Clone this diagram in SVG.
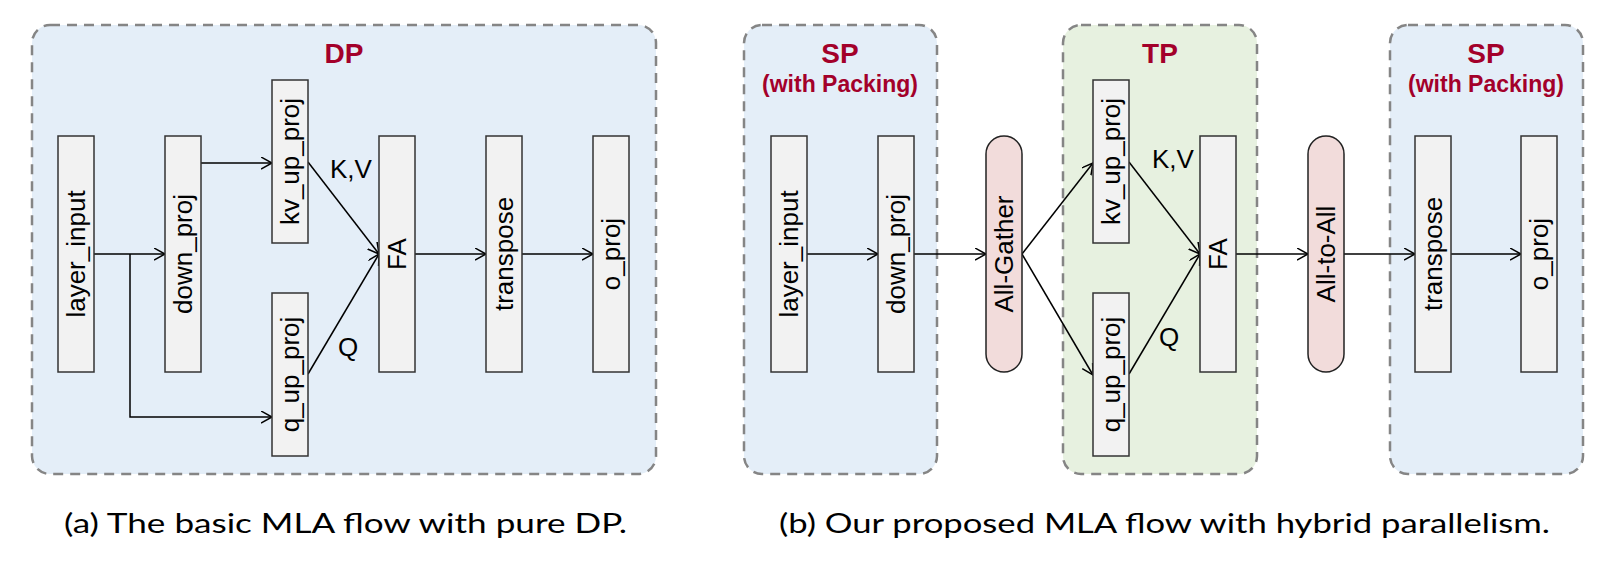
<svg xmlns="http://www.w3.org/2000/svg" width="1617" height="567" viewBox="0 0 1617 567">
<style>
.panel{stroke:#858585;stroke-width:2.5;stroke-dasharray:10 7;}
.blue{fill:#E4EEF8;}
.green{fill:#E7F1E0;}
.box{fill:#F2F2F2;stroke:#333333;stroke-width:1.5;}
.pill{fill:#F2DCDB;stroke:#222222;stroke-width:1.5;}
.lbl{font-family:"Liberation Sans",Arial,sans-serif;font-size:26px;fill:#000;text-anchor:middle;dominant-baseline:central;}
.el{font-family:"Liberation Sans",Arial,sans-serif;font-size:26px;fill:#000;}
.title{font-family:"Liberation Sans",Arial,sans-serif;font-weight:bold;font-size:28px;fill:#A3002A;text-anchor:middle;}
.sub{font-family:"Liberation Sans",Arial,sans-serif;font-weight:bold;font-size:23px;fill:#A3002A;text-anchor:middle;}
.cap{font-family:Lato,"Open Sans",sans-serif;font-size:27px;fill:#000;}
.conn line,.conn polyline{stroke:#000;stroke-width:1.5;fill:none;}
</style>
<defs>
<marker id="arr" markerUnits="userSpaceOnUse" markerWidth="14" markerHeight="14" refX="11" refY="6" orient="auto">
<path d="M0,0 L11,6 L0,12" fill="none" stroke="#000" stroke-width="1.5"/>
</marker>
</defs>

<g id="panel-dp">
<rect class="panel blue" x="32" y="25" width="624" height="449" rx="18"/>
<text class="title" x="344" y="63">DP</text>
</g>
<g id="panel-sp1">
<rect class="panel blue" x="744" y="25" width="193" height="449" rx="18"/>
<text class="title" x="840" y="63">SP</text>
<text class="sub" x="840" y="92">(with Packing)</text>
</g>
<g id="panel-tp">
<rect class="panel green" x="1063" y="25" width="194" height="449" rx="18"/>
<text class="title" x="1160" y="63">TP</text>
</g>
<g id="panel-sp2">
<rect class="panel blue" x="1390" y="25" width="193" height="449" rx="18"/>
<text class="title" x="1486" y="63">SP</text>
<text class="sub" x="1486" y="92">(with Packing)</text>
</g>

<g class="conn" id="connectors">
<line x1="94" y1="254" x2="165" y2="254" marker-end="url(#arr)"/>
<polyline points="130,254 130,417 272,417" marker-end="url(#arr)"/>
<line x1="201" y1="163" x2="272" y2="163" marker-end="url(#arr)"/>
<line x1="308" y1="162" x2="379" y2="254" marker-end="url(#arr)"/>
<line x1="308" y1="374" x2="379" y2="254" marker-end="url(#arr)"/>
<line x1="415" y1="254" x2="486" y2="254" marker-end="url(#arr)"/>
<line x1="522" y1="254" x2="593" y2="254" marker-end="url(#arr)"/>

<line x1="807" y1="254" x2="878" y2="254" marker-end="url(#arr)"/>
<line x1="914" y1="254" x2="986" y2="254" marker-end="url(#arr)"/>
<line x1="1022" y1="254" x2="1093" y2="163" marker-end="url(#arr)"/>
<line x1="1022" y1="254" x2="1093" y2="375" marker-end="url(#arr)"/>
<line x1="1129" y1="162" x2="1200" y2="254" marker-end="url(#arr)"/>
<line x1="1129" y1="374" x2="1200" y2="254" marker-end="url(#arr)"/>
<line x1="1236" y1="254" x2="1308" y2="254" marker-end="url(#arr)"/>
<line x1="1344" y1="254" x2="1415" y2="254" marker-end="url(#arr)"/>
<line x1="1451" y1="254" x2="1521" y2="254" marker-end="url(#arr)"/>
</g>

<g id="a-layer_input"><rect class="box" x="58" y="136" width="36" height="236"/><text class="lbl" transform="translate(76,254) rotate(-90)">layer_input</text></g>
<g id="a-down_proj"><rect class="box" x="165" y="136" width="36" height="236"/><text class="lbl" transform="translate(183,254) rotate(-90)">down_proj</text></g>
<g id="a-kv_up_proj"><rect class="box" x="272" y="80" width="36" height="163"/><text class="lbl" transform="translate(290,161.5) rotate(-90)">kv_up_proj</text></g>
<g id="a-q_up_proj"><rect class="box" x="272" y="293" width="36" height="163"/><text class="lbl" transform="translate(290,374.5) rotate(-90)">q_up_proj</text></g>
<g id="a-FA"><rect class="box" x="379" y="136" width="36" height="236"/><text class="lbl" transform="translate(397,254) rotate(-90)">FA</text></g>
<g id="a-transpose"><rect class="box" x="486" y="136" width="36" height="236"/><text class="lbl" transform="translate(504,254) rotate(-90)">transpose</text></g>
<g id="a-o_proj"><rect class="box" x="593" y="136" width="36" height="236"/><text class="lbl" transform="translate(611,254) rotate(-90)">o_proj</text></g>
<g id="a-labels"><text class="el" x="330" y="178">K,V</text><text class="el" x="338" y="356">Q</text></g>

<g id="b-layer_input"><rect class="box" x="771" y="136" width="36" height="236"/><text class="lbl" transform="translate(789,254) rotate(-90)">layer_input</text></g>
<g id="b-down_proj"><rect class="box" x="878" y="136" width="36" height="236"/><text class="lbl" transform="translate(896,254) rotate(-90)">down_proj</text></g>
<g id="b-all_gather"><rect class="pill" x="986" y="136" width="36" height="236" rx="18"/><text class="lbl" transform="translate(1004,254) rotate(-90)">All-Gather</text></g>
<g id="b-kv_up_proj"><rect class="box" x="1093" y="80" width="36" height="163"/><text class="lbl" transform="translate(1111,161.5) rotate(-90)">kv_up_proj</text></g>
<g id="b-q_up_proj"><rect class="box" x="1093" y="293" width="36" height="163"/><text class="lbl" transform="translate(1111,374.5) rotate(-90)">q_up_proj</text></g>
<g id="b-FA"><rect class="box" x="1200" y="136" width="36" height="236"/><text class="lbl" transform="translate(1218,254) rotate(-90)">FA</text></g>
<g id="b-all_to_all"><rect class="pill" x="1308" y="136" width="36" height="236" rx="18"/><text class="lbl" transform="translate(1326,254) rotate(-90)">All-to-All</text></g>
<g id="b-transpose"><rect class="box" x="1415" y="136" width="36" height="236"/><text class="lbl" transform="translate(1433,254) rotate(-90)">transpose</text></g>
<g id="b-o_proj"><rect class="box" x="1521" y="136" width="36" height="236"/><text class="lbl" transform="translate(1539,254) rotate(-90)">o_proj</text></g>
<g id="b-labels"><text class="el" x="1152" y="168">K,V</text><text class="el" x="1159" y="346">Q</text></g>

<g id="captions">
<text class="cap" x="64" y="533" textLength="563" lengthAdjust="spacingAndGlyphs">(a) The basic MLA flow with pure DP.</text>
<text class="cap" x="779" y="533" textLength="771" lengthAdjust="spacingAndGlyphs">(b) Our proposed MLA flow with hybrid parallelism.</text>
</g>
</svg>
